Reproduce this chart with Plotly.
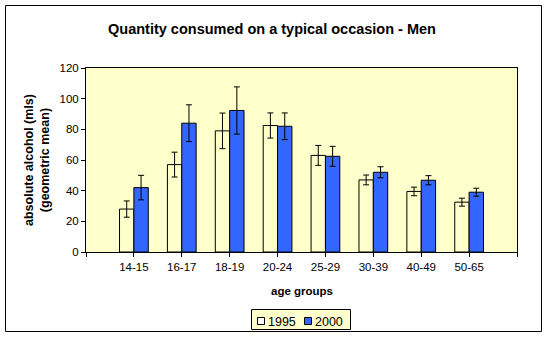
import plotly.graph_objects as go

categories = ["14-15", "16-17", "18-19", "20-24", "25-29", "30-39", "40-49", "50-65"]
values_1995 = [28, 57, 79, 82.5, 63, 47, 39.5, 32.5]
err_1995 = [5.3, 8.1, 11.6, 8.2, 6.5, 3.2, 2.8, 2.6]
values_2000 = [42, 84, 92.3, 82, 62.4, 52, 46.8, 39]
err_2000 = [8, 12, 15.4, 8.7, 6.5, 3.6, 3, 2.6]
series_names = ["1995", "2000"]

positions = list(range(1, len(categories) + 1))
tick_positions = list(range(0, len(categories) + 2))
tick_labels = [""] + categories + [""]

FONT = "Arial, Liberation Sans, sans-serif"
BG = "#FFFFCC"
BLUE = "#3366FF"

fig = go.Figure()
fig.add_trace(go.Bar(
    x=positions, y=values_1995, name=series_names[0],
    marker=dict(color=BG, line=dict(color="black", width=1)),
    error_y=dict(type="data", array=err_1995, color="black", thickness=1, width=3),
))
fig.add_trace(go.Bar(
    x=positions, y=values_2000, name=series_names[1],
    marker=dict(color=BLUE, line=dict(color="black", width=1)),
    error_y=dict(type="data", array=err_2000, color="black", thickness=1, width=3),
))

W, H = 547, 340
ml, mr, mt, mb = 86, 30, 68, 88
pw, ph = W - ml - mr, H - mt - mb

def px2x(px):
    return (px - ml) / pw

def px2y(py):
    return (H - mb - py) / ph

def rect(x0, y0, x1, y1, fill, layer="above"):
    return dict(
        type="rect", xref="paper", yref="paper",
        x0=px2x(x0), x1=px2x(x1), y0=px2y(y1), y1=px2y(y0),
        line=dict(color="black", width=1), fillcolor=fill, layer=layer,
    )

fig.update_layout(
    width=W, height=H,
    margin=dict(l=ml, r=mr, t=mt, b=mb, pad=0, autoexpand=False),
    paper_bgcolor="white",
    plot_bgcolor=BG,
    barmode="group",
    bargap=0.4,
    bargroupgap=0,
    showlegend=False,
    font=dict(family=FONT, size=11, color="black"),
    title=dict(
        text="<b>Quantity consumed on a typical occasion - Men</b>",
        x=272 / W, xanchor="center", y=1 - 29 / H, yanchor="middle",
        font=dict(family=FONT, size=14.5, color="black"),
    ),
    xaxis=dict(
        range=[0, len(categories) + 1],
        tickmode="array", tickvals=tick_positions, ticktext=tick_labels,
        ticks="outside", ticklen=4, tickcolor="black", tickwidth=1,
        showline=True, linecolor="black", linewidth=1, mirror=True,
        showgrid=False, zeroline=False,
        tickfont=dict(family=FONT, size=11.5, color="black"),
    ),
    yaxis=dict(
        range=[0, 120], tickmode="linear", tick0=0, dtick=20,
        ticks="outside", ticklen=4, tickcolor="black", tickwidth=1,
        showline=True, linecolor="black", linewidth=1, mirror=True,
        showgrid=False, zeroline=False,
        tickfont=dict(family=FONT, size=11.5, color="black"),
    ),
    annotations=[
        dict(
            text="<b>absolute alcohol (mls)<br>(geometric mean)</b>",
            xref="paper", yref="paper", x=px2x(37), y=0.5,
            xanchor="center", yanchor="middle", textangle=-90, showarrow=False,
            font=dict(family=FONT, size=12.5, color="black"),
        ),
        dict(
            text="<b>age groups</b>",
            xref="paper", yref="paper", x=0.5, y=px2y(291),
            xanchor="center", yanchor="middle", showarrow=False,
            font=dict(family=FONT, size=11.5, color="black"),
        ),
        dict(
            text=series_names[0],
            xref="paper", yref="paper", x=px2x(265.5), y=px2y(322),
            xanchor="left", yanchor="middle", showarrow=False,
            font=dict(family=FONT, size=12.5, color="black"),
        ),
        dict(
            text=series_names[1],
            xref="paper", yref="paper", x=px2x(312.5), y=px2y(322),
            xanchor="left", yanchor="middle", showarrow=False,
            font=dict(family=FONT, size=12.5, color="black"),
        ),
    ],
    shapes=[
        rect(5.5, 5.5, 541.5, 331.5, "rgba(0,0,0,0)", layer="below"),
        rect(251.5, 309.5, 350.5, 329.5, BG),
        rect(257.5, 317.5, 264.5, 324.5, "white"),
        rect(304.5, 317.5, 311.5, 324.5, BLUE),
    ],
)

fig.write_html("out.html")
